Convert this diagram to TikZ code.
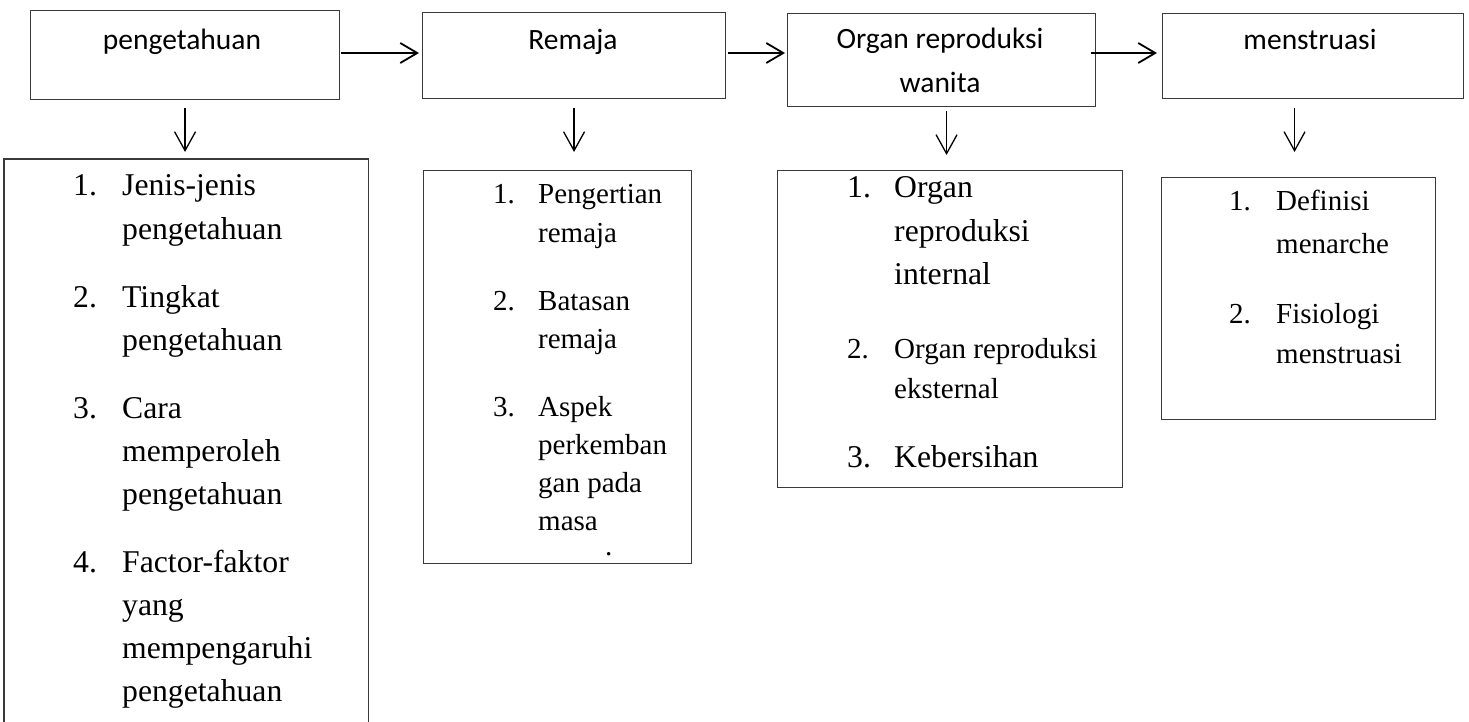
\documentclass[tikz,border=0pt]{standalone}
\usepackage{fontspec}
\setmainfont{Liberation Serif}
\newfontfamily\calfont{Carlito}
\usetikzlibrary{arrows.meta}
\definecolor{boxc}{HTML}{3A3A3A}
\begin{document}
\begin{tikzpicture}[x=1pt,y=-1pt,
  frame/.style={draw=boxc, line width=1.1pt, inner sep=0pt, anchor=north west},
  hollow/.style={inner sep=0pt, anchor=north west},
  ttxt/.style={font=\calfont\fontsize{29.5}{36}\selectfont, anchor=base, inner sep=0pt},
  big/.style={font=\fontsize{31.7}{38}\selectfont, anchor=base west, inner sep=0pt},
  mid/.style={font=\fontsize{29}{35}\selectfont, anchor=base west, inner sep=0pt},
  harr/.style={line width=1.8pt, -{Straight Barb[length=17pt,width=20pt]}},
  darr/.style={line width=1.3pt, -{Straight Barb[length=19pt,width=21pt]}}]
\useasboundingbox (0,0) rectangle (1469,722);
\coordinate (row) at (0,53);
% top boxes
\node[frame, minimum width=309pt, minimum height=89pt] (t1) at (30,10) {};
\node[frame, minimum width=303pt, minimum height=86pt] (t2) at (422,12) {};
\node[frame, minimum width=308pt, minimum height=93pt] (t3) at (787,13) {};
\node[frame, minimum width=301pt, minimum height=85pt] (t4) at (1162,13) {};
\node[ttxt] (t1a) at (182,50) {pengetahuan};
\node[ttxt] (t2a) at (573,50) {Remaja};
\node[ttxt] (t3a) at (940,49) {Organ reproduksi};
\node[ttxt] (t3b) at (940,93) {wanita};
\node[ttxt] (t4a) at (1310,50) {menstruasi};
% bottom boxes
\node[hollow, minimum width=364pt, minimum height=563pt] (l1) at (4,159) {};
\draw[boxc, line width=1.1pt] (l1.south west) -- (l1.north west) -- (l1.north east) -- (l1.south east);
\node[frame, minimum width=268pt, minimum height=393pt] (l2) at (423,170) {};
\node[frame, minimum width=345pt, minimum height=317pt] (l3) at (777,170) {};
\node[frame, minimum width=274pt, minimum height=242pt] (l4) at (1161,177) {};
% horizontal arrows
\draw[harr, shorten <=1pt, shorten >=3pt] (t1.east |- row) -- (t2.west |- row);
\draw[harr, shorten <=2pt, shorten >=2pt] (t2.east |- row) -- (t3.west |- row);
\draw[harr, shorten <=-5pt, shorten >=5pt] (t3.east |- row) -- (t4.west |- row);
% down arrows
\draw[darr, shorten <=8pt, shorten >=7pt] (t1.south) -- (t1.south |- l1.north);
\draw[darr, shorten <=9pt, shorten >=18pt] (t2.south) -- (t2.south |- l2.north);
\draw[darr, shorten <=4pt, shorten >=15pt] ([xshift=5pt]t3.south) -- ([xshift=5pt]t3.south |- l3.north);
\draw[darr, shorten <=9pt, shorten >=25pt] ([xshift=-18.5pt]t4.south) -- ([xshift=-18.5pt]t4.south |- l4.north);
% list 1
\node[big] (n11) at (73,196) {1.};
\node[big] (s11a) at (122,196) {Jenis-jenis};
\node[big] (s11b) at (122,239) {pengetahuan};
\node[big] (n12) at (73,307) {2.};
\node[big] (s12a) at (122,307) {Tingkat};
\node[big] (s12b) at (122,350) {pengetahuan};
\node[big] (n13) at (73,418) {3.};
\node[big] (s13a) at (122,418) {Cara};
\node[big] (s13b) at (122,461) {memperoleh};
\node[big] (s13c) at (122,504) {pengetahuan};
\node[big] (n14) at (73,572) {4.};
\node[big] (s14a) at (122,572) {Factor-faktor};
\node[big] (s14b) at (122,615) {yang};
\node[big] (s14c) at (122,658) {mempengaruhi};
\node[big] (s14d) at (122,701) {pengetahuan};
% list 2
\node[mid] (n21) at (493,204) {1.};
\node[mid] (s21a) at (538,204) {Pengertian};
\node[mid] (s21b) at (538,242) {remaja};
\node[mid] (n22) at (493,310) {2.};
\node[mid] (s22a) at (538,310) {Batasan};
\node[mid] (s22b) at (538,348) {remaja};
\node[mid] (n23) at (493,416) {3.};
\node[mid] (s23a) at (538,416) {Aspek};
\node[mid] (s23b) at (538,454) {perkemban};
\node[mid] (s23c) at (538,492) {gan pada};
\node[mid] (s23d) at (538,530) {masa};
\node[mid] (s23e) at (605,555) {.};
% list 3
\node[big] (n31) at (847,198) {1.};
\node[big] (s31a) at (894,198) {Organ};
\node[big] (s31b) at (894,241) {reproduksi};
\node[big] (s31c) at (894,284) {internal};
\node[mid] (n32) at (847,358) {2.};
\node[mid] (s32a) at (894,358) {Organ reproduksi};
\node[mid] (s32b) at (894,398) {eksternal};
\node[big] (n33) at (847,467) {3.};
\node[big] (s33a) at (894,467) {Kebersihan};
% list 4
\node[mid] (n41) at (1229,211) {1.};
\node[mid] (s41a) at (1276,211) {Definisi};
\node[mid] (s41b) at (1276,253) {menarche};
\node[mid] (n42) at (1229,323) {2.};
\node[mid] (s42a) at (1276,323) {Fisiologi};
\node[mid] (s42b) at (1276,363) {menstruasi};
\end{tikzpicture}
\end{document}
